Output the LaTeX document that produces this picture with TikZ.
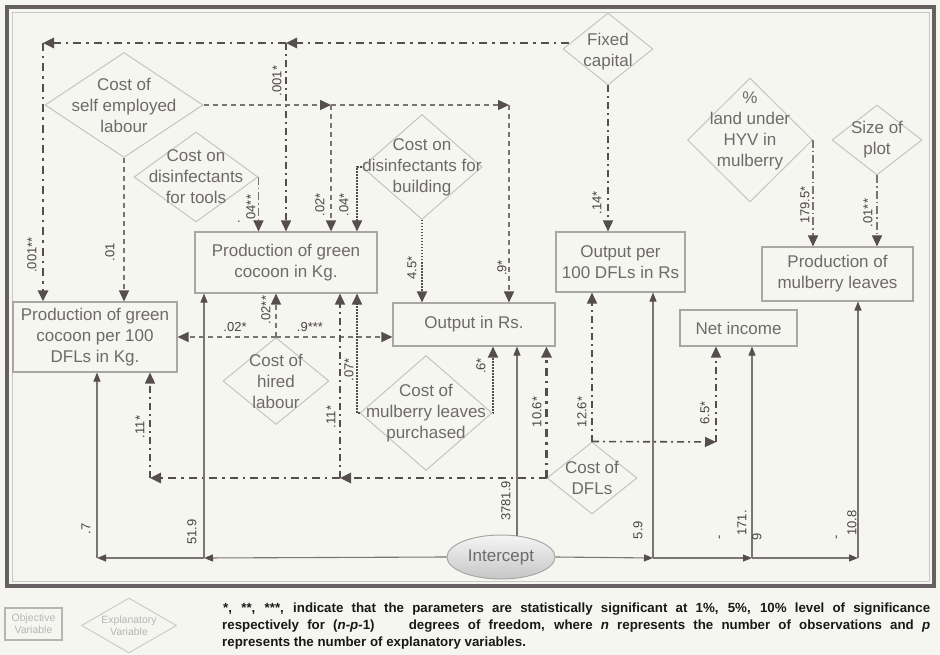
\documentclass[tikz,border=0pt]{standalone}
\usepackage{fontspec}
\setmainfont{Liberation Sans}
\usetikzlibrary{arrows.meta,shapes.geometric,calc}

\definecolor{bgc}{HTML}{F6F6F1}
\definecolor{framec}{HTML}{666060}
\definecolor{ink}{HTML}{564E4E}
\definecolor{boxline}{HTML}{A9A6A6}
\definecolor{dialine}{HTML}{C6C3C3}
\definecolor{txt}{HTML}{6E6A6A}
\definecolor{lab}{HTML}{4A4444}
\definecolor{thinc}{HTML}{7A7474}
\definecolor{legc}{HTML}{B8B5B5}

\tikzset{
  objbox/.style={draw=boxline, line width=1.1pt, rectangle, inner sep=0pt, align=center,
    text=txt, font=\fontsize{17}{21}\selectfont},
  expdia/.style={draw=dialine, line width=1pt, diamond, inner sep=0pt},
  diatext/.style={align=center, text=txt, font=\fontsize{17}{21}\selectfont, inner sep=0pt},
  coef/.style={text=lab, font=\fontsize{13}{14}\selectfont, rotate=90, inner sep=0pt},
  coefh/.style={text=lab, font=\fontsize{13}{14}\selectfont, inner sep=0pt},
  headbig/.style={-{Triangle[length=11pt,width=10pt,color=ink]}},
  headsmall/.style={-{Triangle[length=9pt,width=7pt,color=ink]}},
  thickdd/.style={ink, line width=2.6pt, dash pattern=on 8pt off 5pt on 2.5pt off 5pt},
  meddd/.style={ink, line width=1.6pt, dash pattern=on 7pt off 4pt on 2pt off 4pt},
  dashln/.style={thinc, line width=1.3pt, dash pattern=on 5pt off 4pt},
  dotln/.style={ink, line width=1.8pt, dash pattern=on 1.5pt off 1.5pt},
  thinddd/.style={thinc, line width=1.1pt, dash pattern=on 8pt off 3pt on 1.5pt off 3pt},
  solidln/.style={thinc, line width=1.1pt},
  note/.style={anchor=base west, inner sep=0pt, text=black!90, font=\bfseries\fontsize{13.3}{14}\selectfont},
}

\begin{document}
\begin{tikzpicture}[x=1pt,y=-1pt]
% page and frame
\fill[bgc] (0,0) rectangle (940,655);
\useasboundingbox (0,0) rectangle (940,655);
\draw[framec, line width=4pt] (7,7) rectangle (934,586);
\draw[black!22, line width=0.8pt] (12,12) rectangle (929,581);

% objective variables
\node[objbox, minimum width=164pt, minimum height=70pt] (pgcA) at (95,337) {Production of green\\cocoon per 100\\DFLs in Kg.};
\node[objbox, minimum width=182pt, minimum height=61pt] (pgcB) at (286,262.5) {Production of green\\cocoon in Kg.};
\node[objbox, minimum width=162pt, minimum height=43pt] (outrs) at (474,324.5) {Output in Rs.};
\node[objbox, minimum width=129pt, minimum height=60pt] (outdfl) at (620.5,262) {Output per\\100 DFLs in Rs};
\node[objbox, minimum width=117pt, minimum height=36pt] (netinc) at (738.5,328) {Net income};
\node[objbox, minimum width=151pt, minimum height=54pt] (mulprod) at (837.5,274) {Production of\\mulberry leaves};

% explanatory variables
\node[expdia, minimum width=158pt, minimum height=105pt] (selfemp) at (124,105) {};
\node[diatext] (selfempt) at (selfemp) {Cost of\\self employed\\labour};
\node[expdia, minimum width=124pt, minimum height=90pt] (tools) at (196,177) {};
\node[diatext] (toolst) at (tools) {Cost on\\disinfectants\\for tools};
\node[expdia, minimum width=120pt, minimum height=105pt] (bld) at (422,167) {};
\node[diatext] (bldt) at (bld) {Cost on\\disinfectants for\\building};
\node[expdia, minimum width=90pt, minimum height=72pt] (fixcap) at (608,49) {};
\node[diatext] (fixcapt) at (608,52) {Fixed\\capital};
\node[expdia, minimum width=125pt, minimum height=124pt] (hyv) at (750,140) {};
\node[diatext] (hyvt) at (750,131) {\%\\land under\\HYV in\\mulberry};
\node[expdia, minimum width=90pt, minimum height=70pt] (plot) at (877,140) {};
\node[diatext] (plott) at (plot) {Size of\\plot};
\node[expdia, minimum width=106pt, minimum height=87pt] (hired) at (276,381) {};
\node[diatext] (hiredt) at (hired) {Cost of\\hired\\labour};
\node[expdia, minimum width=132pt, minimum height=115pt] (mulb) at (426,413) {};
\node[diatext] (mulbt) at (mulb) {Cost of\\mulberry leaves\\purchased};
\node[expdia, minimum width=90pt, minimum height=72pt] (dfl) at (592,478) {};
\node[diatext] (dflt) at (dfl) {Cost of\\DFLs};

\node[ellipse, draw=boxline, line width=1pt, top color=white!92!gray, bottom color=gray!45,
  minimum width=108pt, minimum height=44pt, inner sep=0pt, text=txt,
  font=\fontsize{17}{21}\selectfont] (icpt) at (501,557) {Intercept};

% junction points
\coordinate (fxl) at (569,43);
\coordinate (tl) at (43,43);
\coordinate (tm) at (286,43);
\coordinate (sr1) at (331,105);
\coordinate (sr2) at (509,105);
\coordinate (bx) at (357,0);
\coordinate (mx) at (493,0);
\coordinate (bl1) at (150,478);
\coordinate (bl2) at (340,478);
\coordinate (nr) at (716,442);
\coordinate (il1) at (97,558);
\coordinate (il2) at (204,558);
\coordinate (ir1) at (653,558);
\coordinate (ir2) at (752,558);
\coordinate (ir3) at (858,558);
\coordinate (itop) at (517,536);

% fixed capital
\draw[thickdd, headbig] (fxl) -- (tm);
\draw[thickdd, headbig] (tm) -- (tl);
\draw[thickdd, headbig] (tl) -- (tl |- pgcA.north);
\draw[meddd, headbig] (tm) -- (tm |- pgcB.north);
\draw[meddd, headbig] (fixcap.south) -- (fixcap.south |- outdfl.north);

% self employed labour
\draw[dashln, headbig] (selfemp.east) -- (sr1);
\draw[dashln, headbig] (sr1) -- (sr2);
\draw[dashln, headbig] (sr1) -- (sr1 |- pgcB.north);
\draw[dashln, headbig] (sr2) -- (sr2 |- outrs.north);
\draw[dashln, headbig] (selfemp.south) -- (selfemp.south |- pgcA.north);

% disinfectants
\draw[thinddd, headbig] (tools.east) -- (tools.east |- pgcB.north);
\draw[dotln, headbig] (bld.west) -| (bx |- pgcB.north);
\draw[dotln, headbig] (bld.south) -- (bld.south |- outrs.north);

% hired labour
\draw[dashln, headbig] (hired.north) -- (hired.north -| pgcA.east);
\draw[dashln, headbig] (hired.north) -- (hired.north -| outrs.west);
\draw[dashln, headbig] (hired.north) -- (hired.north |- pgcB.south);

% mulberry leaves purchased
\draw[dotln, headbig] (mulb.west) -| (bx |- pgcB.south);
\draw[dotln, headbig] (mulb.east) -| (mx |- outrs.south);

% cost of DFLs
\draw[thickdd, headbig] (dfl.west) -- (bl2);
\draw[thickdd, headbig] (bl2) -- (bl1);
\draw[meddd, headbig] (bl1) -- (bl1 |- pgcA.south);
\draw[meddd, headbig] (bl2) -- (bl2 |- pgcB.south);
\draw[thickdd, headbig] (dfl.west) -- (dfl.west |- outrs.south);
\draw[meddd, headbig] (dfl.north) -- (dfl.north |- outdfl.south);
\draw[meddd, headbig] (dfl.north) -- (nr);
\draw[meddd, headbig] (nr) -- (nr |- netinc.south);

% HYV and plot size
\draw[thinddd, headbig] (hyv.east) -- (hyv.east |- mulprod.north);
\draw[thinddd, headbig] (plot.south) -- (plot.south |- mulprod.north);

% intercept
\draw[solidln, headsmall] (icpt.west) -- (il2);
\draw[solidln, headsmall] (il2) -- (il1);
\draw[solidln, headsmall] (il1) -- (il1 |- pgcA.south);
\draw[solidln, headsmall] (il2) -- (il2 |- pgcB.south);
\draw[solidln, headsmall] (icpt.east) -- (ir1);
\draw[solidln, headsmall] (ir1) -- (ir2);
\draw[solidln, headsmall] (ir2) -- (ir3);
\draw[solidln, headsmall] (ir1) -- (ir1 |- outdfl.south);
\draw[solidln, headsmall] (ir2) -- (ir2 |- netinc.south);
\draw[solidln, headsmall] (ir3) -- (ir3 |- mulprod.south);
\draw[solidln, headsmall] (itop) -- (itop |- outrs.south);

% coefficients
\node[coef] (c1) at (32,255) {.001**};
\node[coef] (c2) at (110,252) {.01};
\node[coef] (c3) at (277,81) {.001*};
\node[coef] (c4) at (320,205) {.02*};
\node[coef] (c5) at (344,205) {.04*};
\node[coef] (c6) at (251,209) {.04**};
\node[coefh] (c6b) at (239,222) {.};
\node[coef] (c7) at (597,203) {.14*};
\node[coef] (c8) at (412,268) {4.5*};
\node[coef] (c9) at (502,268) {.9*};
\node[coef] (c10) at (805,205) {179.5*};
\node[coef] (c11) at (868,213) {.01**};
\node[coefh] (c12) at (235,327) {.02*};
\node[coefh] (c13) at (310,327) {.9***};
\node[coef] (c14) at (266,310) {.02**};
\node[coef] (c15) at (349,370) {.07*};
\node[coef] (c16) at (331,417) {.11*};
\node[coef] (c17) at (140,427) {.11*};
\node[coef] (c18) at (481,366) {.6*};
\node[coef] (c19) at (537,412) {10.6*};
\node[coef] (c20) at (582,412) {12.6*};
\node[coef] (c21) at (705,413) {6.5*};
\node[coef] (c22) at (86,529) {.7};
\node[coef] (c23) at (192,532) {51.9};
\node[coef] (c24) at (506,501) {3781.9};
\node[coef] (c25) at (638,530) {5.9};
\node[coef] (c26) at (721,537) {-};
\node[coef] (c27) at (742,523) {171.};
\node[coef] (c28) at (757,537) {9};
\node[coef] (c29) at (838,537) {-};
\node[coef] (c30) at (852,523) {10.8};

% legend
\node[draw=legc, line width=1.2pt, minimum width=57pt, minimum height=32pt, inner sep=0pt,
  align=center, text=legc, font=\fontsize{10.5}{12}\selectfont] (legobj) at (33.5,624) {Objective\\Variable};
\node[draw=legc!70, line width=1pt, diamond, minimum width=95pt, minimum height=55pt, inner sep=0pt] (legexp) at (129,625.5) {};
\node[align=center, text=legc, inner sep=0pt, font=\fontsize{10.5}{12}\selectfont] (legexpt) at (legexp) {Explanatory\\Variable};

\node[note] (n1) at (223,612) {\makebox[707pt][s]{*, **, ***, indicate that the parameters are statistically significant at 1\%, 5\%, 10\% level of significance}};
\node[note] (n2) at (222,629) {\makebox[708pt][s]{respectively for (\textit{n-p-}1)\hspace{26pt} degrees of freedom, where \textit{n} represents the number of observations and \textit{p}}};
\node[note] (n3) at (222,646) {represents the number of explanatory variables.};
\end{tikzpicture}
\end{document}
